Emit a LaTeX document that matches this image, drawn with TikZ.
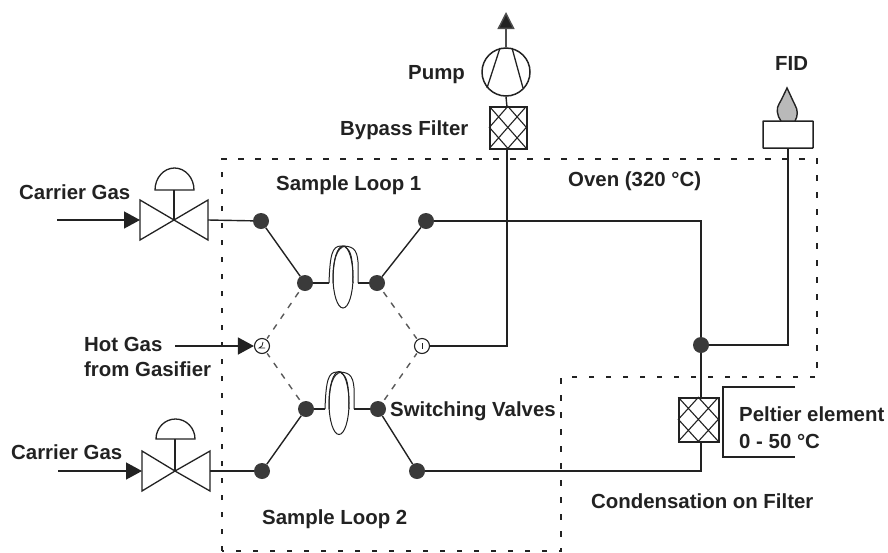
\documentclass[tikz,border=0pt]{standalone}
\usepackage{fontspec}
\setmainfont{Liberation Sans}
\usetikzlibrary{shapes.geometric,arrows.meta}
\definecolor{ink}{HTML}{222222}
\definecolor{dotc}{HTML}{3A3A3A}
\newcommand{\hatchbox}[3]{\draw[draw=ink,line width=1.1pt,shift={(#1.north west)},x=#2pt,y=-#3pt]
      (0,0)--(1,1) (1,0)--(0,1) (.5,0)--(0,.5)--(.5,1)--(1,.5)--cycle;}
\tikzset{
  x=1pt,y=-1pt,
  pipe/.style={draw=ink,line width=1.4pt},
  thinline/.style={draw=ink,line width=1.3pt},
  flow/.style={pipe,-{Triangle[length=16pt,width=17pt,fill=ink]}},
  oven/.style={draw=ink,line width=1.4pt,dash pattern=on 5.5pt off 11.5pt},
  vdot/.style={circle,fill=dotc,draw=none,minimum size=16pt,inner sep=0pt},
  port/.style={circle,fill=white,draw=ink,line width=1.1pt,minimum size=15pt,inner sep=0pt},
  lab/.style={anchor=base west,inner sep=0pt,font=\fontsize{20.4}{23}\selectfont\bfseries,text=ink},
  loopring/.style={ellipse,draw=ink,line width=1pt,fill=none,inner sep=0pt},
  filterbox/.style 2 args={draw=ink,line width=1.3pt,minimum width=#1pt,minimum height=#2pt,inner sep=0pt,fill=white},
  detbox/.style={draw=ink,line width=1.5pt,minimum width=50pt,minimum height=27pt,inner sep=0pt,rounded corners=0.5pt},
  pumpc/.style={circle,draw=ink,line width=1.5pt,minimum size=48pt,inner sep=0pt},
  valveshape/.style={draw=ink,line width=1.3pt,line join=miter},
}
\begin{document}
\begin{tikzpicture}
\useasboundingbox (0,0) rectangle (888,552);

% oven outline
\coordinate (ov1) at (222,551);
\coordinate (ov2) at (222,159);
\coordinate (ov3) at (817,159);
\coordinate (ov4) at (817,377);
\coordinate (ov5) at (561,377);
\coordinate (ov6) at (561,551);
\draw[oven] (ov1) -- (ov2) -- (ov3) -- (ov4) -- (ov5) -- (ov6) -- cycle;

% nodes of the switching network
\node[vdot] (a1) at (261,221) {};
\node[vdot] (a2) at (305,283) {};
\node[vdot] (a3) at (377,283) {};
\node[vdot] (a4) at (426,221) {};
\node[vdot] (b1) at (262,471) {};
\node[vdot] (b2) at (306,409) {};
\node[vdot] (b3) at (378,409) {};
\node[vdot] (b4) at (417,471) {};
\node[vdot] (j) at (701,345) {};
\node[port] (pl) at (262,346) {};
\node[port] (pr) at (422,346) {};

% sample loops
\coordinate (l1a) at (329,283);
\coordinate (l1b) at (358,283);
\coordinate (l2a) at (325,409);
\coordinate (l2b) at (354,409);
\node[loopring,minimum width=20pt,minimum height=62pt] (ring1) at (343,277) {};
\node[loopring,minimum width=20pt,minimum height=63pt] (ring2) at (339,403) {};
\draw[thinline,line width=1pt] (l1a) .. controls (330,255) and (332,246) .. (341,246)
   .. controls (352,246) and (357,248) .. (358,262) -- (l1b);
\draw[thinline,line width=1pt] (333,283) .. controls (333,258) and (337,248) .. (345,246);
\draw[thinline,line width=1pt] (353,283) .. controls (353,258) and (351,250) .. (345,247);
\draw[thinline,line width=1pt] (l2a) .. controls (326,381) and (328,372) .. (337,372)
   .. controls (348,372) and (353,374) .. (354,388) -- (l2b);
\draw[thinline,line width=1pt] (329,409) .. controls (329,384) and (333,374) .. (341,372);
\draw[thinline,line width=1pt] (349,409) .. controls (349,384) and (347,376) .. (341,373);

% connectors in the network
\draw[pipe] (a1) -- (a2);
\draw[pipe] (a2) -- (l1a);
\draw[pipe] (l1b) -- (a3);
\draw[pipe] (a3) -- (a4);
\draw[pipe] (b1) -- (b2);
\draw[pipe] (b2) -- (l2a);
\draw[pipe] (l2b) -- (b3);
\draw[pipe] (b3) -- (b4);
\draw[oven,shorten >=1pt,shorten <=3pt,dash pattern=on 6pt off 7pt,draw=ink!75] (a2) -- (pl);
\draw[oven,shorten >=1pt,shorten <=3pt,dash pattern=on 6pt off 7pt,draw=ink!75] (a3) -- (pr);
\draw[oven,shorten >=1pt,shorten <=3pt,dash pattern=on 6pt off 7pt,draw=ink!75] (b2) -- (pl);
\draw[oven,shorten >=1pt,shorten <=3pt,dash pattern=on 6pt off 7pt,draw=ink!75] (b3) -- (pr);
\draw[thinline,line width=.8pt] (pl.center) -- +(-3,2) -- +(3,2) (pl.center) -- +(1,-4);
\draw[thinline,line width=.8pt] (pr.center) -- +(0,-3) (pr.center) -- +(0,3);

% upper valve
\coordinate (v1) at (174,220);
\coordinate (v1l) at (140,220);
\coordinate (v1r) at (208,220);
\coordinate (in1) at (57,220);
\draw[valveshape] (v1) -- (140,200) -- (140,240) -- cycle;
\draw[valveshape] (v1) -- (208,200) -- (208,240) -- cycle;
\draw[valveshape] (v1) -- (174,190);
\draw[valveshape] (155,190) arc[start angle=180,end angle=0,x radius=19.5,y radius=-22] -- cycle;
\draw[flow] (in1) -- (v1l);
\draw[pipe] (v1r) -- (a1);

% lower valve
\coordinate (v2) at (175,471);
\coordinate (v2l) at (142,471);
\coordinate (v2r) at (210,471);
\coordinate (in2) at (58,471);
\draw[valveshape] (v2) -- (142,451) -- (142,491) -- cycle;
\draw[valveshape] (v2) -- (210,451) -- (210,491) -- cycle;
\draw[valveshape] (v2) -- (175,439);
\draw[valveshape] (156,439) arc[start angle=180,end angle=0,x radius=19.5,y radius=-20] -- cycle;
\draw[flow] (in2) -- (v2l);
\draw[pipe] (v2r) -- (b1);

% hot gas inlet
\coordinate (in3) at (175,346);
\draw[flow] (in3) -- (pl.west);

% pump and bypass filter
\node[pumpc] (pump) at (506,72) {};
\node[filterbox={37}{42}] (bf) at (508.5,128) {};
\hatchbox{bf}{37}{42}
\coordinate (bft) at (507,107);
\coordinate (bfb) at (507,149);
\coordinate (ptop) at (506,12);
\coordinate (elbow1) at (507,346);
\draw[pipe,-{Triangle[length=17pt,width=17pt,fill=ink]},draw=ink!80] (pump.north) -- (ptop);
\draw[pipe] (pump.south) -- (bft);
\draw[pipe] (pr) -- (elbow1) -- (bfb);
\draw[thinline] (500,48) -- (487,88);
\draw[thinline] (512,48) -- (523,88);

% FID
\node[detbox] (fid) at (788,134.5) {};
\draw[draw=ink,line width=1.4pt,fill=gray!55] (781,121) .. controls (777,116) and (776,108) .. (779,104)
  .. controls (782,99) and (785,92) .. (787,88) .. controls (789,92) and (792,99) .. (795,105)
  .. controls (798,110) and (798,116) .. (795,121) -- cycle;
\coordinate (e2) at (788,345);
\draw[pipe] (j) -- (e2) -- (fid.south);

% main lines
\coordinate (e3) at (701,221);
\draw[pipe] (a4) -- (e3) -- (j);

% Peltier filter
\node[filterbox={40}{44}] (pf) at (699,420) {};
\hatchbox{pf}{40}{44}
\coordinate (e4) at (701,471);
\draw[pipe] (j) -- (pf.north -| j);
\draw[pipe] (pf.south -| j) -- (e4) -- (b4);
\coordinate (pb1) at (795,387);
\coordinate (pb2) at (723,387);
\coordinate (pb3) at (723,457);
\coordinate (pb4) at (795,457);
\draw[pipe] (pb1) -- (pb2) -- (pb3) -- (pb4);

% labels
\node[lab] (t1) at (408,79) {Pump};
\node[lab] (t2) at (340,135) {Bypass Filter};
\node[lab] (t3) at (775,70) {FID};
\node[lab] (t4) at (19,199) {Carrier Gas};
\node[lab] (t5) at (276,190) {Sample Loop 1};
\node[lab] (t6) at (568,186) {Oven (320 °C)};
\node[lab] (t7) at (84,351) {Hot Gas};
\node[lab] (t8) at (84,376) {from Gasifier};
\node[lab] (t9) at (390,416) {Switching Valves};
\node[lab] (t10) at (739,421) {Peltier element};
\node[lab] (t11) at (739,448) {0 - 50 °C};
\node[lab] (t12) at (11,459) {Carrier Gas};
\node[lab] (t13) at (591,508) {Condensation on Filter};
\node[lab] (t14) at (262,524) {Sample Loop 2};
\end{tikzpicture}
\end{document}
